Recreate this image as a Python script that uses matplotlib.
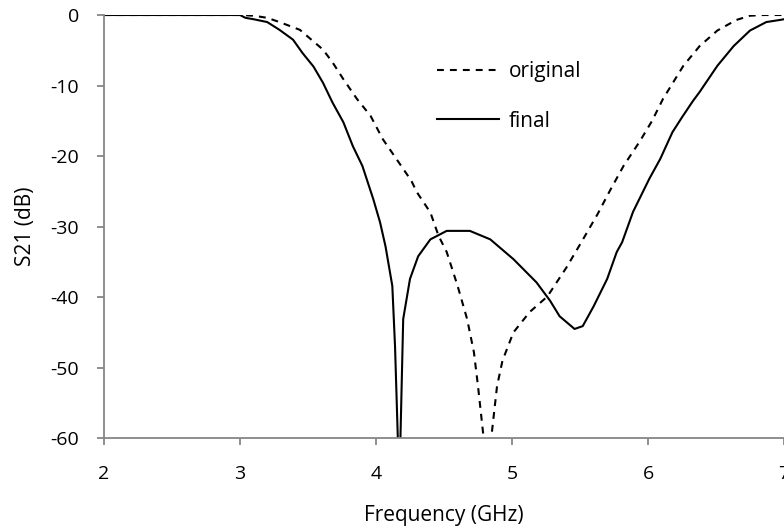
import matplotlib
matplotlib.use("Agg")
import matplotlib.pyplot as plt

# original filter response (dashed)
freq_orig = [2.0, 2.5, 3.0, 3.1, 3.2, 3.29, 3.44, 3.61, 3.68, 3.76, 3.86, 3.96,
             4.05, 4.15, 4.26, 4.30, 4.40, 4.46, 4.52, 4.60, 4.67, 4.72, 4.75,
             4.79, 4.82, 4.85, 4.89, 4.93, 5.01, 5.13, 5.26, 5.40, 5.51, 5.63,
             5.72, 5.82, 5.94, 6.03, 6.11, 6.26, 6.38, 6.51, 6.65, 6.75, 6.85, 7.0]
s21_orig = [0, 0, 0, -0.1, -0.4, -1.0, -2.1, -4.9, -6.7, -9.1, -11.9, -14.3,
            -17.6, -20.4, -23.5, -25.1, -28.0, -31.3, -33.6, -38.4, -43.1, -47.8, -52.6,
            -59.7, -66.0, -59.5, -52.6, -49.0, -45.0, -42.1, -39.9, -35.8, -32.2, -28.2,
            -24.9, -21.4, -17.9, -15.0, -11.9, -7.2, -4.4, -2.2, -0.7, -0.1, 0, 0]

# final filter response (solid)
freq_final = [2.0, 3.0, 3.04, 3.1, 3.2, 3.29, 3.39, 3.46, 3.54, 3.61, 3.68, 3.76,
              3.83, 3.90, 3.98, 4.03, 4.07, 4.12, 4.14, 4.16, 4.17, 4.18, 4.20,
              4.25, 4.31, 4.40, 4.52, 4.60, 4.69, 4.84, 5.01, 5.18, 5.28, 5.35,
              5.46, 5.52, 5.60, 5.70, 5.77, 5.81, 5.89, 6.01, 6.09, 6.18, 6.25,
              6.33, 6.38, 6.51, 6.63, 6.75, 6.87, 6.97, 7.0]
s21_final = [0, 0, -0.4, -0.6, -1.0, -2.1, -3.5, -5.4, -7.3, -9.6, -12.4, -15.2,
             -18.6, -21.4, -26.1, -29.4, -32.8, -38.4, -47.0, -59.7, -75.0, -59.7, -43.1,
             -37.4, -34.2, -31.8, -30.6, -30.6, -30.6, -31.8, -34.6, -37.9, -40.5, -42.7,
             -44.5, -44.1, -41.3, -37.4, -33.6, -32.2, -27.9, -23.2, -20.4, -16.6, -14.5,
             -12.2, -10.9, -7.2, -4.4, -2.2, -1.0, -0.7, -0.6]

x_ticks = [2, 3, 4, 5, 6, 7]
y_ticks = [0, -10, -20, -30, -40, -50, -60]

GREY = "#868686"
plt.rcParams["font.family"] = ["Open Sans", "DejaVu Sans"]
plt.rcParams["axes.unicode_minus"] = False

fig = plt.figure(figsize=(7.84, 5.28), dpi=100)
ax = fig.add_axes([104 / 784, 1 - 438.3 / 528, 680 / 784, (438.3 - 15) / 528])

ax.plot(freq_orig, s21_orig, color="black", lw=1.5,
        linestyle=(0, (3.3, 2.9)), label="original")
ax.plot(freq_final, s21_final, color="black", lw=1.5, label="final")

ax.set_xlim(2, 7)
ax.set_ylim(-60, 0)
ax.set_xticks(x_ticks)
ax.set_yticks(y_ticks)

for side in ("top", "right"):
    ax.spines[side].set_visible(False)
for side in ("left", "bottom"):
    ax.spines[side].set_color(GREY)
    ax.spines[side].set_linewidth(1.3)
    ax.spines[side].set_clip_on(False)

ax.tick_params(direction="out", length=5, width=1.3, color=GREY,
               labelsize=14, labelcolor="black")
ax.tick_params(axis="y", pad=13)
ax.tick_params(axis="x", pad=14)

ax.set_xlabel("Frequency (GHz)", fontsize=15, labelpad=16)
ax.set_ylabel("S21 (dB)", fontsize=15, labelpad=10)

ax.legend(loc="upper left", bbox_to_anchor=(0.477, 0.91), frameon=False,
          fontsize=15, handlelength=3.0, handletextpad=0.45, labelspacing=1.35,
          borderaxespad=0)

fig.savefig("out.png", dpi=100)
